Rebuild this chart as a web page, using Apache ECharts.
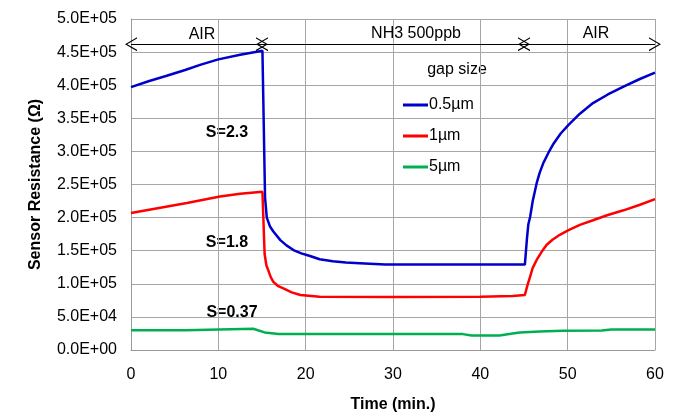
<!DOCTYPE html>
<html>
<head>
<meta charset="utf-8">
<script src="https://cdn.jsdelivr.net/npm/echarts@6/dist/echarts.min.js"></script>
<style>
  html, body { margin: 0; padding: 0; background: #fff; }
  #chart { width: 676px; height: 419px; }
</style>
</head>
<body>
<div id="chart"></div>
<script>
// time in minutes, resistance in ohm
const blueTime = [0, 2, 4, 6.2, 8, 10, 12.5, 15.05, 15.35, 15.55, 15.9, 16.3, 17.1, 17.8, 18.6, 19.5, 20.5, 21.6, 23.1, 24.6, 26.2, 29.1, 35, 40, 45.1,
  45.35, 45.5, 45.7, 46.0, 46.45, 46.8, 47.2, 47.8, 48.4, 49.2, 50.1, 51.4, 52.9, 54.6, 56.4, 58.2, 60];
const blueVals = [3.97e5, 4.06e5, 4.14e5, 4.23e5, 4.31e5, 4.39e5, 4.46e5, 4.52e5, 2.3e5, 2.0e5, 1.87e5, 1.79e5, 1.66e5, 1.58e5, 1.51e5, 1.46e5, 1.42e5, 1.37e5, 1.34e5, 1.32e5, 1.31e5, 1.29e5, 1.29e5, 1.29e5, 1.29e5,
  1.7e5, 1.9e5, 2.01e5, 2.25e5, 2.52e5, 2.68e5, 2.82e5, 2.98e5, 3.12e5, 3.27e5, 3.40e5, 3.57e5, 3.73e5, 3.86e5, 3.98e5, 4.09e5, 4.19e5];

const redTime = [0, 6.4, 10.2, 12.5, 15.05, 15.3, 15.5, 15.7, 16.0, 16.3, 16.8, 17.45, 18.4, 19.4, 21.6, 30, 40, 43.7, 45.1,
  45.4, 45.7, 46.0, 46.45, 47.0, 47.6, 48.3, 49.1, 50.1, 51.4, 52.9, 54.6, 56.4, 58.2, 60];
const redVals = [2.07e5, 2.22e5, 2.32e5, 2.36e5, 2.39e5, 1.45e5, 1.28e5, 1.21e5, 1.10e5, 1.03e5, 9.7e4, 9.3e4, 8.7e4, 8.3e4, 8.05e4, 8.0e4, 8.05e4, 8.15e4, 8.3e4,
  9.8e4, 1.11e5, 1.24e5, 1.36e5, 1.48e5, 1.59e5, 1.67e5, 1.74e5, 1.81e5, 1.89e5, 1.96e5, 2.04e5, 2.11e5, 2.19e5, 2.28e5];

const greenTime = [0, 6.2, 6.4, 14.0, 15.3, 16.9, 38, 39, 42.2, 43.5, 44.5, 46.8, 49.4, 53.9, 55, 60];
const greenVals = [3.0e4, 3.0e4, 3.2e4, 3.2e4, 2.66e4, 2.4e4, 2.4e4, 2.2e4, 2.2e4, 2.45e4, 2.65e4, 2.8e4, 2.9e4, 2.95e4, 3.1e4, 3.1e4];

const seriesNames = ['0.5\u00b5m', '1\u00b5m', '5\u00b5m'];
const seriesColors = ['#0000cc', '#ff0000', '#00b050'];

// phase arrows: [start, end] in minutes
const phases = [[0, 15], [15, 45], [45, 60]];
const arrowLevel = 4.62e5;

function pairs(t, v) {
  return t.map(function (x, i) { return [x, v[i]]; });
}

function sci(v) {
  if (v === 0) return '0.0E+00';
  var e = Math.floor(Math.log10(v));
  var m = v / Math.pow(10, e);
  var es = (e < 10 ? '0' : '') + e;
  return m.toFixed(1) + 'E+' + es;
}

const font = "'Liberation Sans', Arial, sans-serif";
const chevron = 'path://M5,0 L10,10 L9,10 L5,1.8 L1,10 L0,10 Z';

function txt(x, y, s, bold) {
  return {
    type: 'text', x: x, y: y,
    style: { text: s, font: (bold ? 'bold ' : '') + '16px ' + font, fill: '#000', textAlign: 'center', textVerticalAlign: 'middle' }
  };
}

var myChart = echarts.init(document.getElementById('chart'));
var option = {
  animation: false,
  textStyle: { fontFamily: font },
  grid: { left: 131, right: 21, top: 19, bottom: 69 },
  legend: {
    orient: 'vertical',
    left: 398,
    top: 92,
    itemWidth: 25,
    itemHeight: 3,
    itemGap: 15,
    icon: 'rect',
    data: seriesNames,
    textStyle: { fontFamily: font, fontSize: 16, color: '#000', padding: [0, 0, 0, -4] }
  },
  xAxis: {
    type: 'value',
    min: 0,
    max: 60,
    interval: 10,
    name: 'Time (min.)',
    nameLocation: 'middle',
    nameGap: 47,
    nameTextStyle: { fontFamily: font, fontSize: 16, fontWeight: 'bold', color: '#000' },
    axisLine: { lineStyle: { color: '#999' } },
    axisTick: { show: false },
    axisLabel: { fontFamily: font, fontSize: 16, color: '#000', margin: 17 },
    splitLine: { show: true, lineStyle: { color: '#a6a6a6' } }
  },
  yAxis: {
    type: 'value',
    min: 0,
    max: 5e5,
    interval: 5e4,
    name: 'Sensor Resistance (\u03a9)',
    nameLocation: 'middle',
    nameGap: 87,
    nameTextStyle: { fontFamily: font, fontSize: 16, fontWeight: 'bold', color: '#000' },
    axisLine: { show: true, lineStyle: { color: '#999' } },
    axisTick: { show: false },
    axisLabel: { fontFamily: font, fontSize: 16, color: '#000', margin: 14, formatter: sci },
    splitLine: { show: true, lineStyle: { color: '#a6a6a6' } }
  },
  graphic: [
    txt(202, 35, 'AIR'),
    txt(416, 34, 'NH3 500ppb'),
    txt(596, 34, 'AIR'),
    txt(457, 70, 'gap size'),
    txt(227, 133, 'S=2.3', true),
    txt(227, 243, 'S=1.8', true),
    txt(232, 313, 'S=0.37', true)
  ],
  series: [
    {
      name: seriesNames[0],
      type: 'line',
      data: pairs(blueTime, blueVals),
      showSymbol: false,
      lineStyle: { width: 2.5, color: seriesColors[0] },
      itemStyle: { color: seriesColors[0] },
      markLine: {
        silent: true,
        symbol: [chevron, chevron],
        symbolSize: [14, 12],
        label: { show: false },
        lineStyle: { color: '#000', width: 1, type: 'solid' },
        data: phases.map(function (p) {
          return [{ coord: [p[0], arrowLevel] }, { coord: [p[1], arrowLevel] }];
        })
      }
    },
    {
      name: seriesNames[1],
      type: 'line',
      data: pairs(redTime, redVals),
      showSymbol: false,
      lineStyle: { width: 2.5, color: seriesColors[1] },
      itemStyle: { color: seriesColors[1] }
    },
    {
      name: seriesNames[2],
      type: 'line',
      data: pairs(greenTime, greenVals),
      showSymbol: false,
      lineStyle: { width: 2.5, color: seriesColors[2] },
      itemStyle: { color: seriesColors[2] }
    }
  ]
};
myChart.setOption(option);
window.addEventListener('resize', function () {
  myChart.resize();
});
</script>
</body>
</html>
